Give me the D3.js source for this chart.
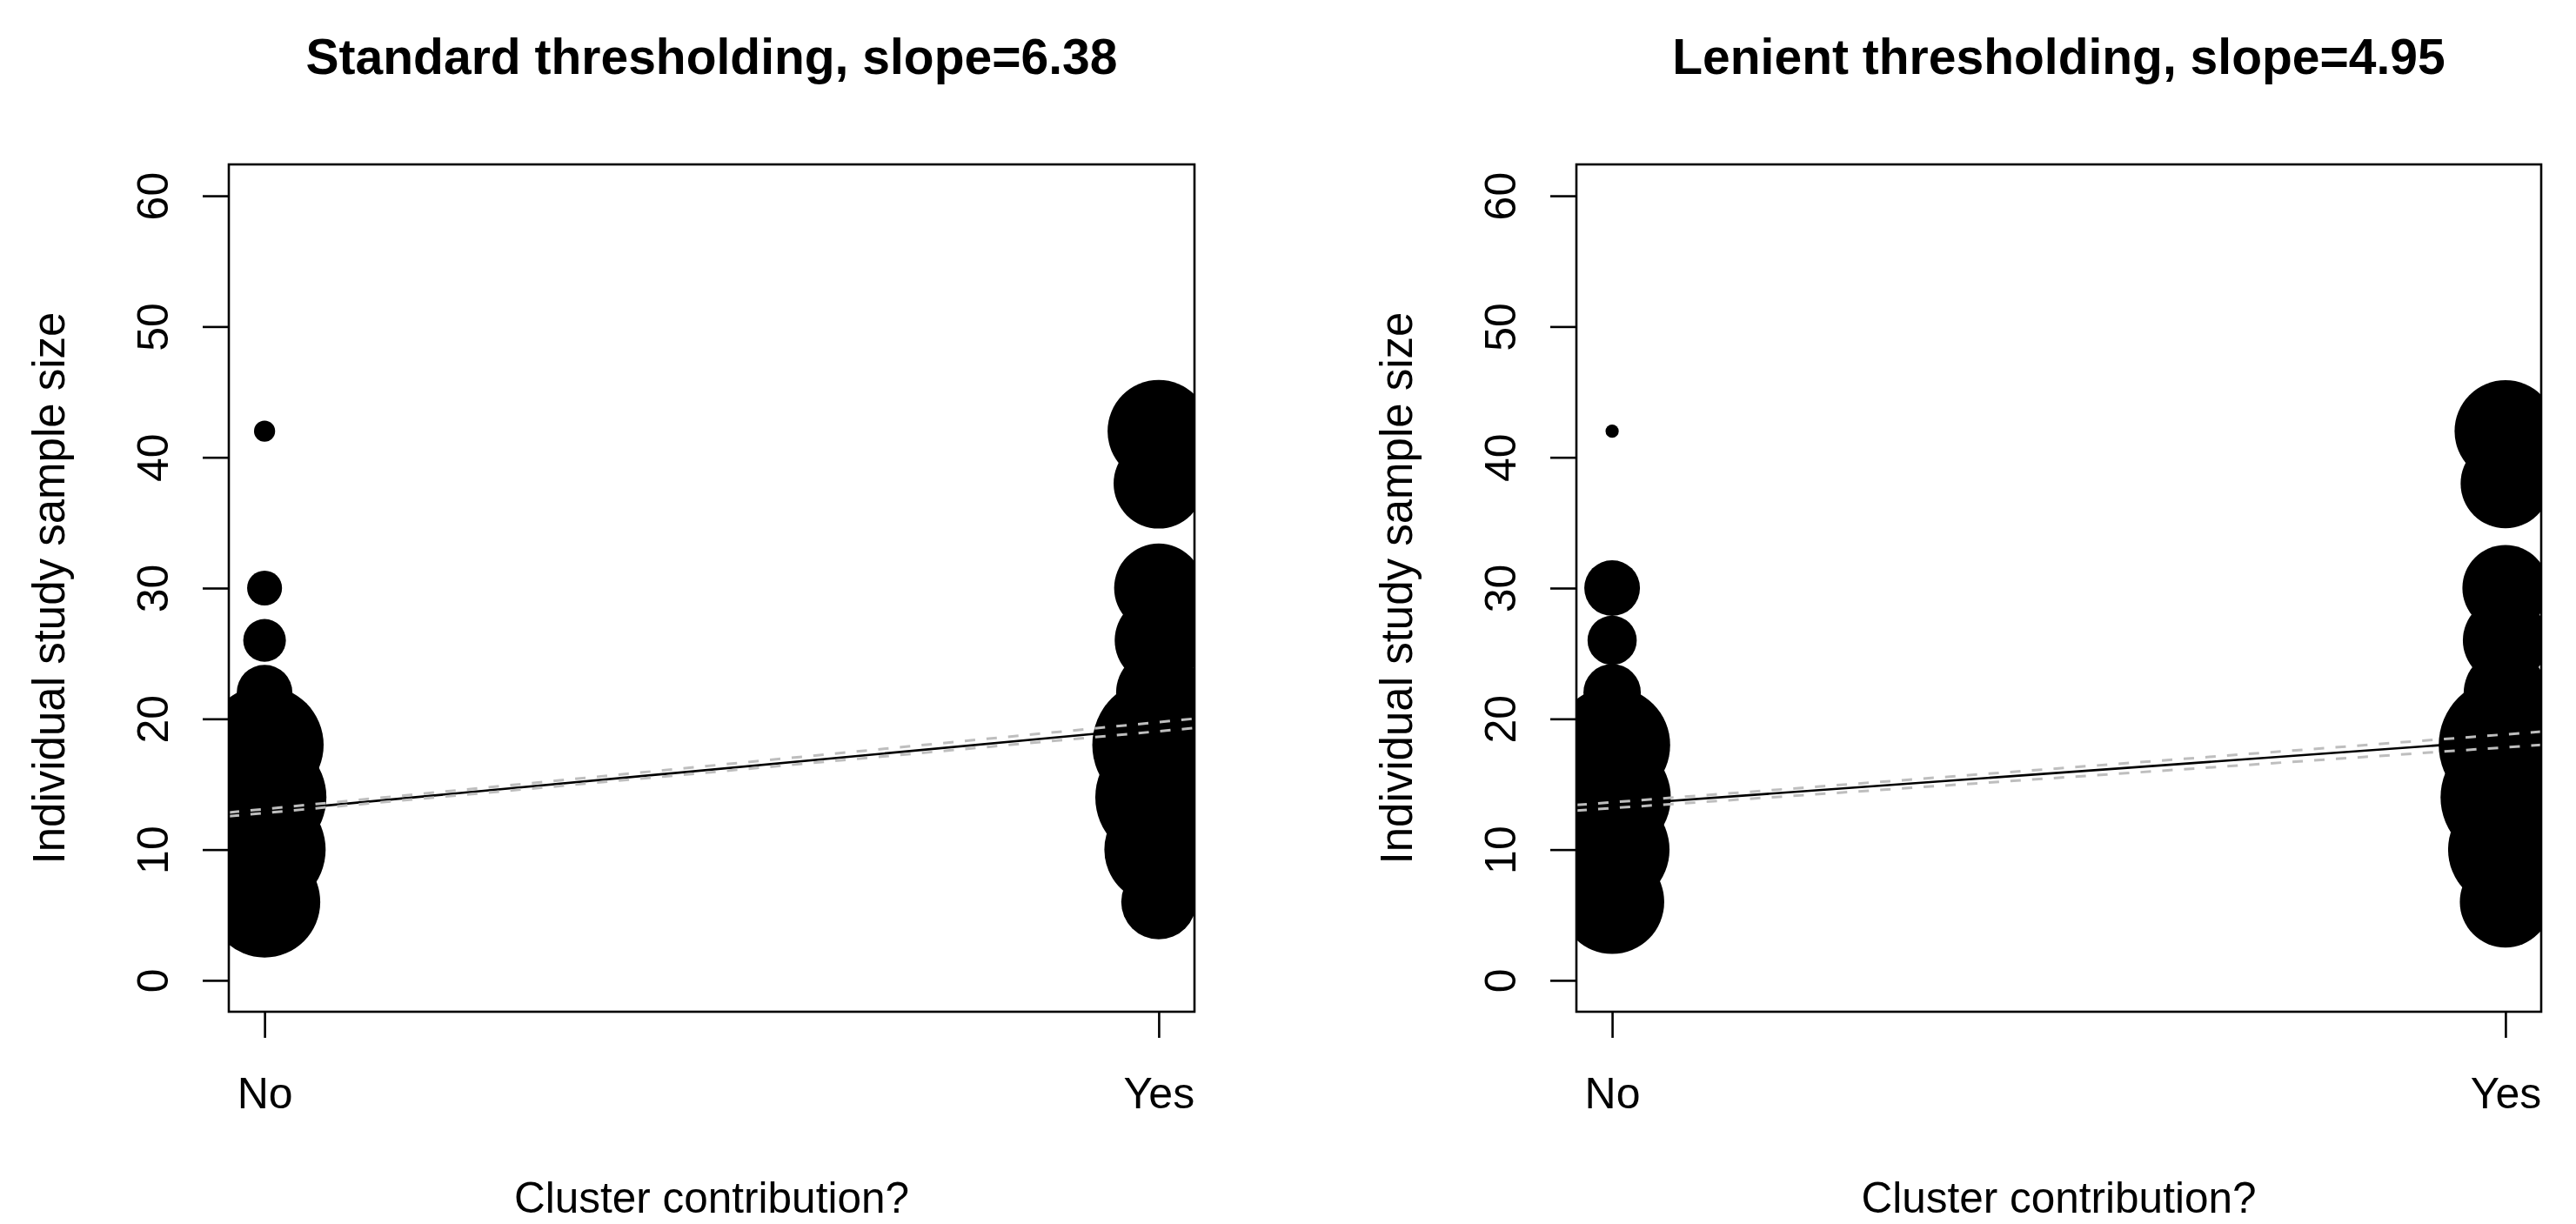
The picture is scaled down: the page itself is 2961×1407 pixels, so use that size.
<!DOCTYPE html>
<html>
<head>
<meta charset="utf-8">
<script src="https://cdn.jsdelivr.net/npm/d3@7"></script>
<style>
  body { margin: 0; background: #fff; }
  text { font-family: "Liberation Sans", Arial, Helvetica, sans-serif; fill: #000; }
</style>
</head>
<body>
<svg id="chart" width="2961" height="1407"></svg>
<script>
// x categories and y ticks
var categories = ["No", "Yes"];
var yTicks = [0, 10, 20, 30, 40, 50, 60];
var titles = ["Standard thresholding, slope=6.38", "Lenient thresholding, slope=4.95"];
var xLabel = "Cluster contribution?";
var yLabel = "Individual study sample size";

// standard thresholding: sample size of each bubble and its weight (bubble area)
var stdNoSize = [42, 30, 26, 22, 18, 14, 10, 6];
var stdNoWeight = [2.3, 6.3, 9.4, 16, 72, 79, 77, 64];
var stdYesSize = [42, 38, 30, 26, 22, 18, 14, 10, 6];
var stdYesWeight = [54, 42, 41, 40, 37.5, 91, 83, 61, 29];

// lenient thresholding
var lenNoSize = [42, 30, 26, 22, 18, 14, 10, 6];
var lenNoWeight = [0.9, 16, 12.5, 17, 69.5, 71, 68, 56];
var lenYesSize = [42, 38, 30, 26, 22, 18, 14, 10, 6];
var lenYesWeight = [53.5, 41.5, 38.3, 37.5, 36, 92, 87, 68, 43];

// fitted line (solid) and the two dashed lines, value at No and at Yes
var stdFit = [12.93, 19.31];
var stdUpper = [13.1, 19.75];
var stdLower = [12.8, 19.05];
var lenFit = [13.4, 18.35];
var lenUpper = [13.62, 18.81];
var lenLower = [13.17, 17.82];

var panels = [
  { title: titles[0], noSize: stdNoSize, noW: stdNoWeight, yesSize: stdYesSize, yesW: stdYesWeight,
    fit: stdFit, upper: stdUpper, lower: stdLower, left: 263, right: 1373 },
  { title: titles[1], noSize: lenNoSize, noW: lenNoWeight, yesSize: lenYesSize, yesW: lenYesWeight,
    fit: lenFit, upper: lenUpper, lower: lenLower, left: 1812, right: 2921 }
];

var svg = d3.select("#chart");
var top_ = 189, bottom = 1163;
var lw = 2.6;

var r = d3.scaleSqrt().domain([0, 100]).range([0, 80]);

panels.forEach(function(p, k) {
  var x = d3.scaleLinear().domain([-0.04, 1.04]).range([p.left, p.right]);
  var y = d3.scaleLinear().domain([-2.4, 62.4]).range([bottom, top_]);
  var cx = (p.left + p.right) / 2;

  var clipId = "clip" + k;
  svg.append("clipPath").attr("id", clipId)
    .append("rect")
      .attr("x", p.left).attr("y", top_)
      .attr("width", p.right - p.left).attr("height", bottom - top_);

  var g = svg.append("g").attr("clip-path", "url(#" + clipId + ")");

  var pts = [];
  p.noSize.forEach(function(s, i) { pts.push({ x: 0, y: s, w: p.noW[i] }); });
  p.yesSize.forEach(function(s, i) { pts.push({ x: 1, y: s, w: p.yesW[i] }); });

  g.selectAll("circle").data(pts).enter().append("circle")
    .attr("cx", function(d) { return x(d.x); })
    .attr("cy", function(d) { return y(d.y); })
    .attr("r", function(d) { return r(d.w); })
    .attr("fill", "#000");

  // abline: extend over whole plot region
  function ab(v) {
    var a = v[0], b = v[1] - v[0];
    return [[-0.04, a - 0.04 * b], [1.04, a + 1.04 * b]];
  }
  var line = d3.line().x(function(d) { return x(d[0]); }).y(function(d) { return y(d[1]); });

  g.append("path").attr("d", line(ab(p.fit)))
    .attr("fill", "none").attr("stroke", "#000").attr("stroke-width", lw);
  [p.upper, p.lower].forEach(function(v) {
    g.append("path").attr("d", line(ab(v)))
      .attr("fill", "none").attr("stroke", "#bebebe").attr("stroke-width", lw + 0.4)
      .attr("stroke-dasharray", "12,13");
  });

  // box
  svg.append("rect")
    .attr("x", p.left).attr("y", top_)
    .attr("width", p.right - p.left).attr("height", bottom - top_)
    .attr("fill", "none").attr("stroke", "#000").attr("stroke-width", lw);

  // y axis
  var ya = svg.append("g")
    .attr("transform", "translate(" + p.left + ",0)")
    .call(d3.axisLeft(y).tickValues(yTicks).tickSize(30).tickSizeOuter(0));
  ya.select(".domain").remove();
  ya.selectAll("line").attr("stroke-width", lw);
  ya.selectAll("text")
    .attr("transform", "rotate(-90)")
    .attr("x", 0).attr("y", -70).attr("dy", null)
    .attr("text-anchor", "middle")
    .style("font-size", "50px");

  // x axis
  var xa = svg.append("g")
    .attr("transform", "translate(0," + bottom + ")")
    .call(d3.axisBottom(x).tickValues([0, 1]).tickFormat(function(i) { return categories[i]; })
      .tickSize(30).tickSizeOuter(0));
  xa.select(".domain").remove();
  xa.selectAll("line").attr("stroke-width", lw);
  xa.selectAll("text").attr("y", 111).attr("dy", null).style("font-size", "50px");

  // labels
  svg.append("text")
    .attr("x", cx).attr("y", 85)
    .attr("text-anchor", "middle")
    .style("font-size", "57px").style("font-weight", "bold")
    .text(p.title);

  svg.append("text")
    .attr("x", cx).attr("y", 1394)
    .attr("text-anchor", "middle")
    .style("font-size", "49.5px")
    .text(xLabel);

  svg.append("text")
    .attr("transform", "translate(" + (p.left - 189.5) + "," + ((top_ + bottom) / 2) + ") rotate(-90)")
    .attr("text-anchor", "middle")
    .style("font-size", "51px")
    .text(yLabel);
});
</script>
</body>
</html>
